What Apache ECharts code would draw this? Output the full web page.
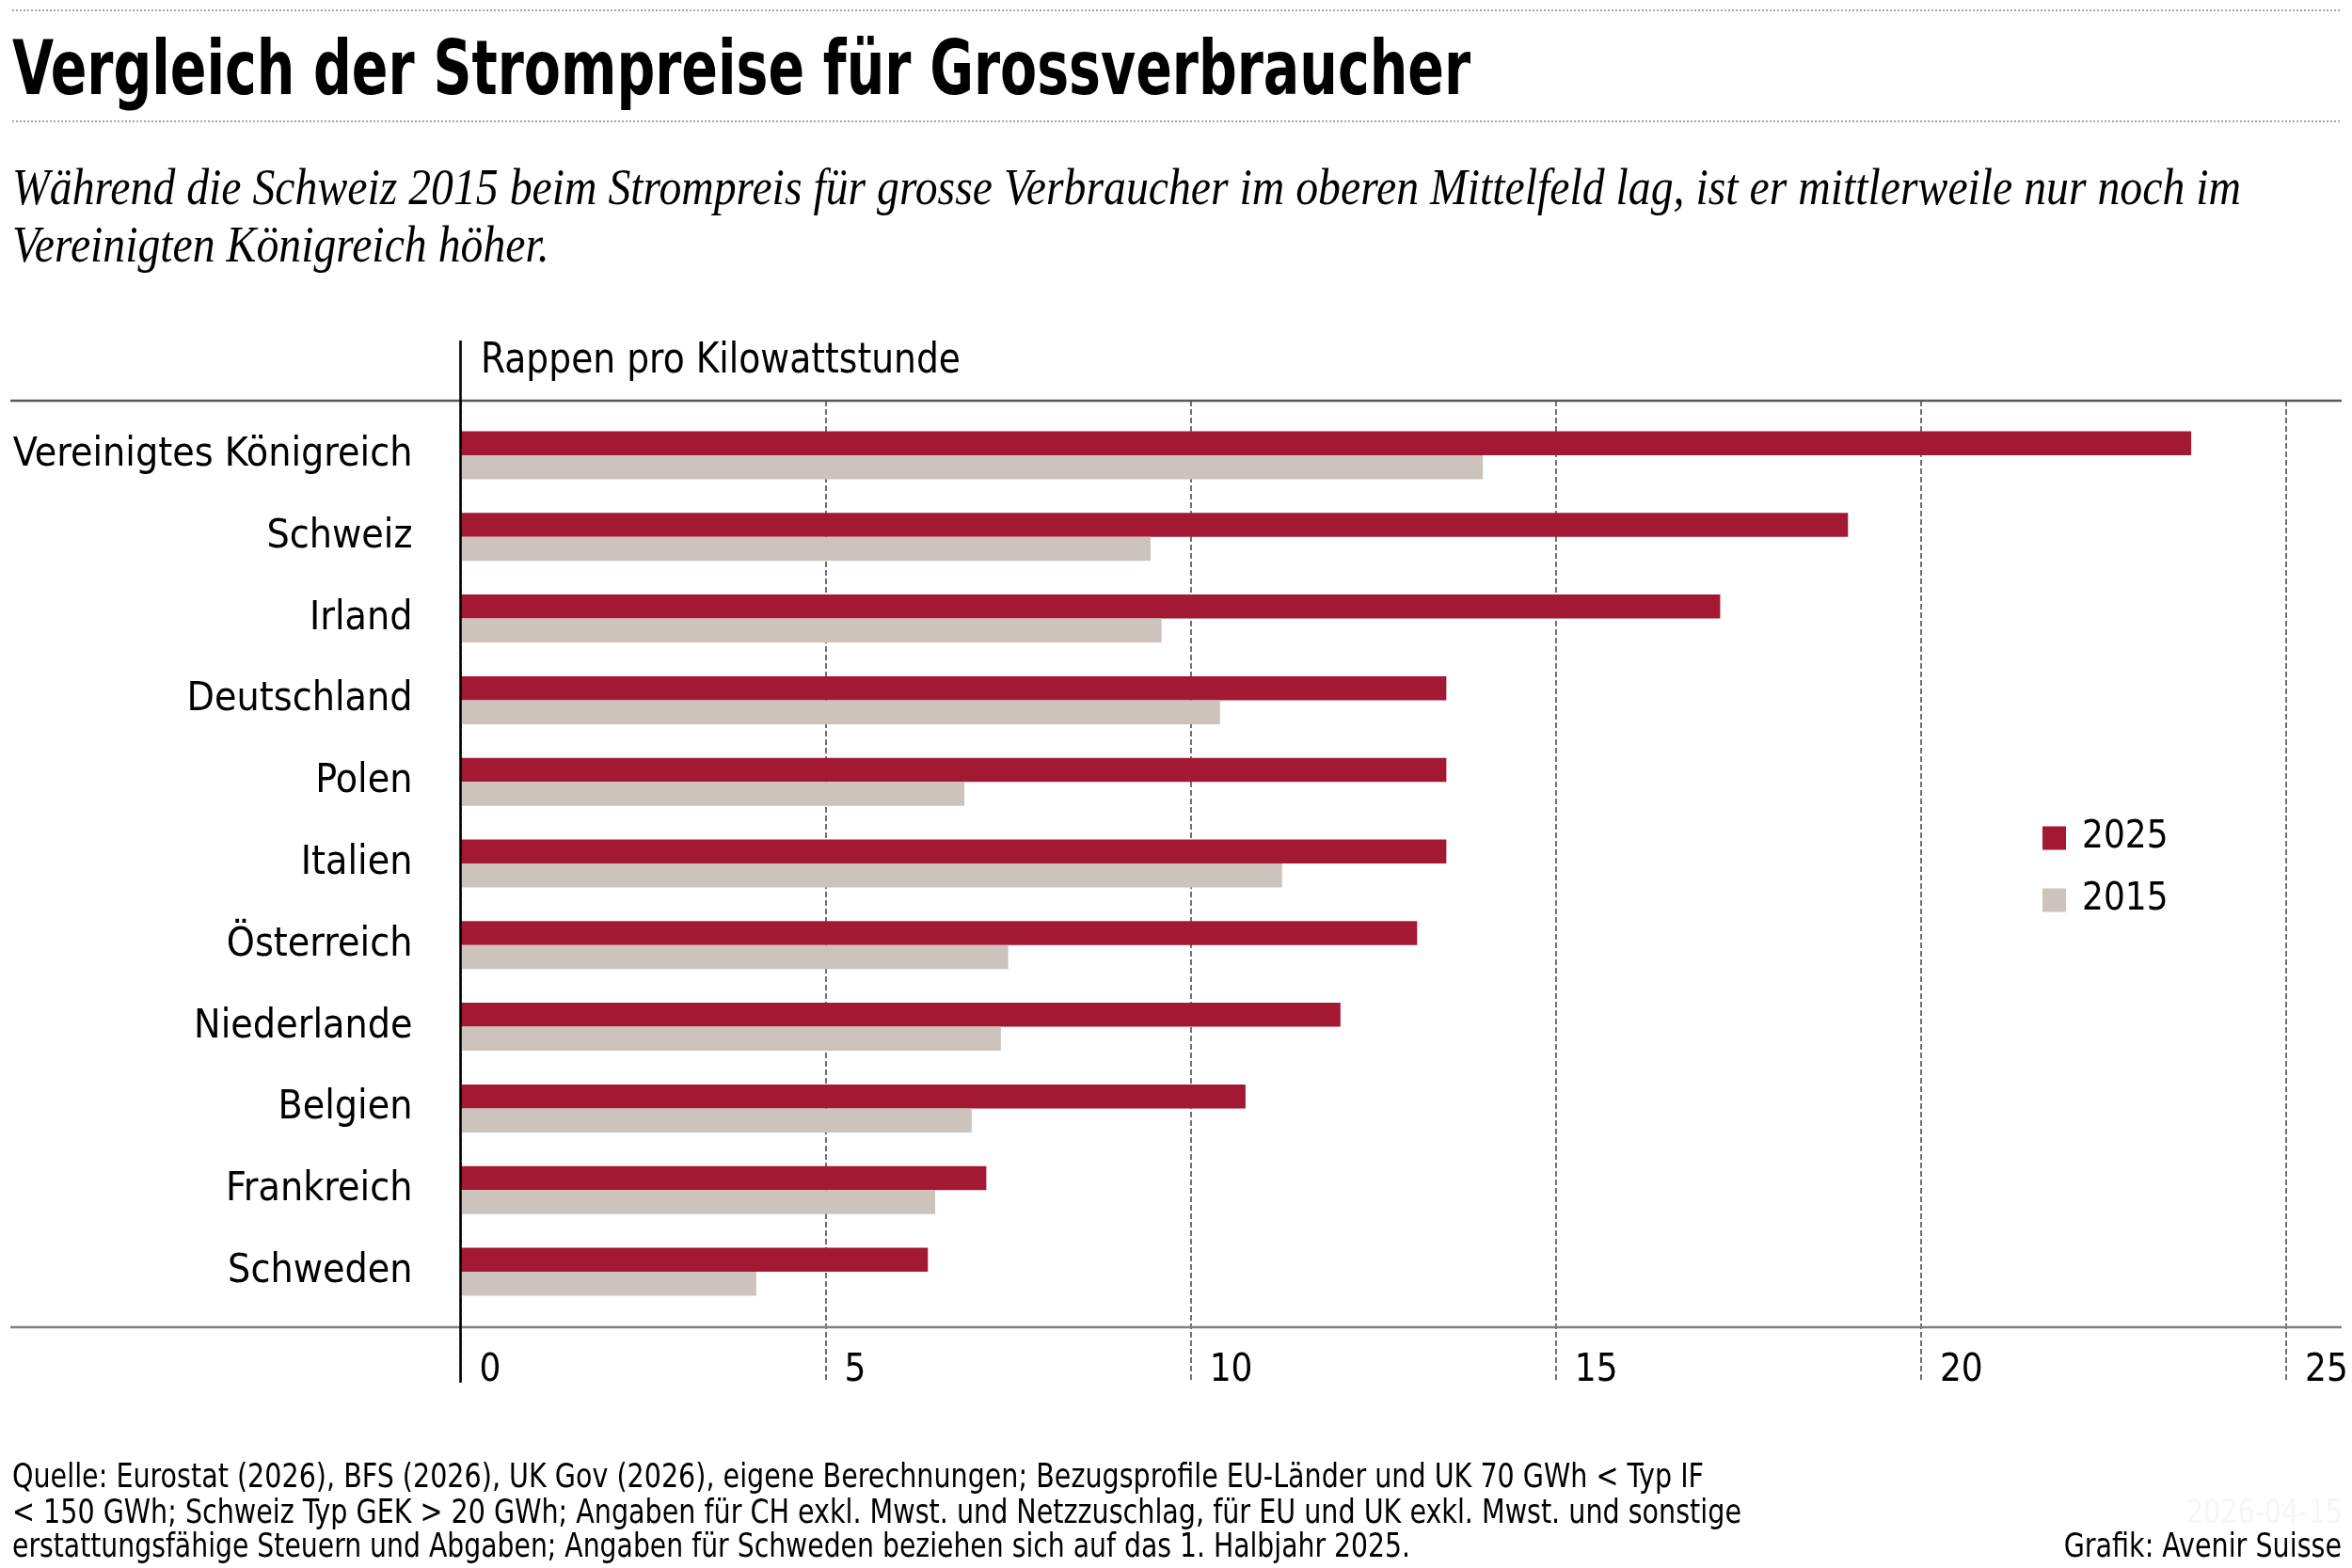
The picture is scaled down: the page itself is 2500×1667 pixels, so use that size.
<!DOCTYPE html>
<html>
<head>
<meta charset="utf-8">
<script src="https://cdn.jsdelivr.net/npm/echarts@6/dist/echarts.min.js"></script>
<style>
html, body { margin: 0; padding: 0; background: #fff; }
#chart { width: 2500px; height: 1667px; }
</style>
</head>
<body>
<div id="chart"></div>
<script>
// Data (Rappen pro kWh)
var countries = ['Vereinigtes Königreich', 'Schweiz', 'Irland', 'Deutschland', 'Polen',
  'Italien', 'Österreich', 'Niederlande', 'Belgien', 'Frankreich', 'Schweden'];
var values2025 = [23.7, 19.0, 17.25, 13.5, 13.5, 13.5, 13.1, 12.05, 10.75, 7.2, 6.4];
var values2015 = [14.0, 9.45, 9.6, 10.4, 6.9, 11.25, 7.5, 7.4, 7.0, 6.5, 4.05];
var seriesNames = ['2025', '2015'];
var xMin = 0, xMax = 25, xStep = 5;

var titleText = 'Vergleich der Strompreise für Grossverbraucher';
var subtitleLines = [
  'Während die Schweiz 2015 beim Strompreis für grosse Verbraucher im oberen Mittelfeld lag, ist er mittlerweile nur noch im',
  'Vereinigten Königreich höher.'
];
var unitText = 'Rappen pro Kilowattstunde';
var footerLines = [
  'Quelle: Eurostat (2026), BFS (2026), UK Gov (2026), eigene Berechnungen; Bezugsprofile EU-Länder und UK 70 GWh < Typ IF',
  '< 150 GWh; Schweiz Typ GEK > 20 GWh; Angaben für CH exkl. Mwst. und Netzzuschlag, für EU und UK exkl. Mwst. und sonstige',
  'erstattungsfähige Steuern und Abgaben; Angaben für Schweden beziehen sich auf das 1. Halbjahr 2025.'
];
var creditText = 'Grafik: Avenir Suisse';
var dateText = '2026-04-15';

var sans = '"Liberation Sans Narrow", "DejaVu Sans Condensed", sans-serif';
var serif = '"Liberation Serif", "DejaVu Serif", serif';
var red = '#a31934';
var grey = '#cbc3bc';

var measureCtx = document.createElement('canvas').getContext('2d');
function fitScale(text, font, width) {
  measureCtx.font = font;
  return width / measureCtx.measureText(text).width;
}

function textEl(text, x, y, font, width, opts) {
  opts = opts || {};
  var align = opts.align || 'left';
  return {
    type: 'text',
    x: x,
    y: y,
    z: 100,
    scaleX: width ? fitScale(text, font, width) : 1,
    style: {
      text: text,
      font: font,
      fill: opts.color || '#000',
      align: align,
      verticalAlign: 'middle',
      textAlign: align,
      textVerticalAlign: 'middle'
    }
  };
}

function lineEl(x1, y1, x2, y2, color, width, dash) {
  return {
    type: 'line',
    z: 100,
    shape: { x1: x1, y1: y1, x2: x2, y2: y2 },
    style: { stroke: color, lineWidth: width, lineDash: dash || null }
  };
}

var titleFont = 'bold 81px ' + sans;
var subFont = 'italic 54px ' + serif;
var footFont = '35px ' + sans;

var graphics = [
  lineEl(13, 11, 2488, 11, '#8a8a8a', 1.5, [2, 2]),
  lineEl(13, 129, 2488, 129, '#8a8a8a', 1.5, [2, 2]),
  textEl(titleText, 13, 79, titleFont, 1550),
  textEl(subtitleLines[0], 13, 203, subFont, 2369),
  textEl(subtitleLines[1], 13, 264, subFont, 0),
  textEl(unitText, 511, 385, '44px ' + sans, 510),
  lineEl(11, 426, 2489, 426, '#5a5a5a', 2.5),
  lineEl(11, 1411, 2489, 1411, '#808080', 2.5),
  lineEl(489.5, 362, 489.5, 1470, '#000', 2.6),
  textEl(footerLines[0], 13, 1572, footFont, 1798),
  textEl(footerLines[1], 13, 1610, footFont, 1838),
  textEl(footerLines[2], 13, 1646, footFont, 1486),
  textEl(dateText, 2490, 1610, footFont, 0, { align: 'right', color: '#f6f6f6' }),
  textEl(creditText, 2489, 1646, footFont, 0, { align: 'right' })
];
// second subtitle line uses the same horizontal scale as the first
graphics[4].scaleX = graphics[3].scaleX;
// footer credit/date use the footer scale
graphics[12].scaleX = graphics[9].scaleX;
graphics[13].scaleX = graphics[9].scaleX;

var chart = echarts.init(document.getElementById('chart'));
chart.setOption({
  backgroundColor: '#fff',
  animation: false,
  textStyle: { fontFamily: sans },
  legend: {
    data: seriesNames,
    orient: 'vertical',
    left: 2171,
    top: 871,
    padding: 0,
    icon: 'rect',
    itemWidth: 25,
    itemHeight: 25,
    itemGap: 26,
    textStyle: {
      fontFamily: sans,
      fontSize: 40,
      color: '#000',
      padding: [0, 0, 0, 12]
    }
  },
  grid: [
    { left: 489.5, right: 70, top: 440.6, bottom: 271.6, outerBoundsMode: 'none', containLabel: false },
    { left: 489.5, right: 70, top: 426, bottom: 197, outerBoundsMode: 'none', containLabel: false }
  ],
  xAxis: [{
    type: 'value',
    gridIndex: 0,
    min: xMin,
    max: xMax,
    interval: xStep,
    axisLine: { show: false },
    axisTick: { show: false },
    splitLine: { show: false },
    axisLabel: {
      fontFamily: sans,
      fontSize: 40,
      color: '#000',
      align: 'left',
      margin: 42,
      padding: [0, 0, 0, 20]
    }
  }, {
    type: 'value',
    gridIndex: 1,
    min: xMin,
    max: xMax,
    interval: xStep,
    axisLine: { show: false },
    axisTick: { show: false },
    axisLabel: { show: false },
    splitLine: {
      show: true,
      lineStyle: { color: '#444', width: 1.5, type: [6, 3] }
    }
  }],
  yAxis: [{
    type: 'category',
    gridIndex: 0,
    data: countries,
    inverse: true,
    axisLine: { show: false },
    axisTick: { show: false },
    splitLine: { show: false },
    axisLabel: {
      fontFamily: sans,
      fontSize: 42.5,
      color: '#000',
      margin: 51,
      padding: [6, 0, 0, 0]
    }
  }, {
    type: 'value',
    gridIndex: 1,
    min: 0,
    max: 1,
    show: false
  }],
  series: [{
    name: seriesNames[0],
    type: 'bar',
    xAxisIndex: 0,
    yAxisIndex: 0,
    data: values2025,
    barWidth: 25.5,
    barGap: '0%',
    itemStyle: { color: red },
    silent: true
  }, {
    name: seriesNames[1],
    type: 'bar',
    xAxisIndex: 0,
    yAxisIndex: 0,
    data: values2015,
    barWidth: 25.5,
    barGap: '0%',
    itemStyle: { color: grey },
    silent: true
  }],
  graphic: graphics
});
</script>
</body>
</html>
